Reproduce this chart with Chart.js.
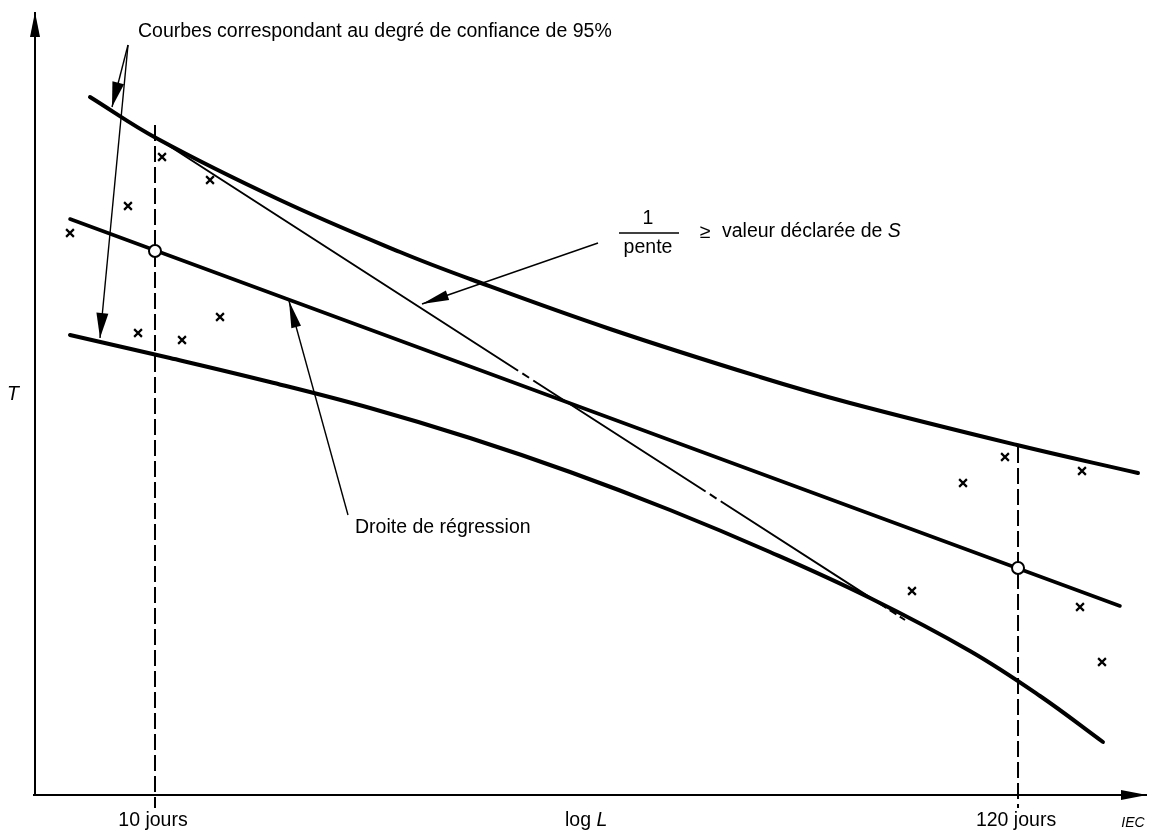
<!DOCTYPE html>
<html>
<head>
<meta charset="utf-8">
<script src="https://cdn.jsdelivr.net/npm/chart.js@4.4.1/dist/chart.umd.min.js"></script>
<style>
  html, body { margin: 0; padding: 0; background: #fff; }
  canvas { display: block; }
</style>
</head>
<body>
<canvas id="chart" width="1151" height="831"></canvas>
<script>
// x = log10(L in days), y = T (arbitrary units, 0 on the x axis)
const TICK_DAYS = [10, 120];
const TICK_LABELS = ['10 jours', '120 jours'];

const UPPER_X = [0.9187, 1.0025, 1.1563, 1.3064, 1.3939, 1.5690, 1.7565, 1.8691, 2.0779, 2.2292];
const UPPER_T = [69.8, 65.65, 59.5, 54.3, 51.6, 46.6, 41.8, 39.2, 35.0, 32.2];

const LOWER_X = [0.8937, 1.0188, 1.1438, 1.2689, 1.3939, 1.5190, 1.6440, 1.7690, 1.8941, 2.0191, 2.1067, 2.1854];
const LOWER_T = [46.0, 43.7, 41.3, 38.7, 35.7, 32.3, 28.5, 24.3, 19.7, 14.4, 9.9, 5.3];

const REGRESSION_X = [0.8937, 2.2067];
const REGRESSION_T = [57.6, 18.9];

// regression values read at 10 and 120 days
const REGRESSION_AT_TICKS = [54.4, 22.7];
// top of the dashed reference lines
const TICK_LINE_TOP = [67.0, 34.8];

const SLOPE_X = [1.0063, 1.9379];
const SLOPE_T = [65.5, 17.5];

const MEASURED_X = [0.8937, 0.9662, 1.0088, 1.0688, 0.9788, 1.0338, 1.0813, 1.9466, 2.0104, 2.0629, 2.1592, 2.1567, 2.1842];
const MEASURED_T = [56.2, 58.9, 63.8, 61.5, 46.2, 45.5, 47.8, 20.4, 31.2, 33.8, 32.4, 18.8, 13.3];

const toPoints = (xs, ys) => xs.map((x, i) => ({ x: x, y: ys[i] }));
const tickX = TICK_DAYS.map(d => Math.log10(d));

const FONT = '"Liberation Sans", Arial, Helvetica, sans-serif';
const SIZE = 19.5;

function arrow(ctx, x1, y1, x2, y2, len, half) {
  ctx.beginPath();
  ctx.moveTo(x1, y1);
  ctx.lineTo(x2, y2);
  ctx.stroke();
  const a = Math.atan2(y2 - y1, x2 - x1);
  const bx = x2 - len * Math.cos(a), by = y2 - len * Math.sin(a);
  ctx.beginPath();
  ctx.moveTo(x2, y2);
  ctx.lineTo(bx + half * Math.sin(a), by - half * Math.cos(a));
  ctx.lineTo(bx - half * Math.sin(a), by + half * Math.cos(a));
  ctx.closePath();
  ctx.fill();
}

const figurePlugin = {
  id: 'figure',
  afterDatasetsDraw(chart) {
    const ctx = chart.ctx;
    const xs = chart.scales.x, ys = chart.scales.y;
    const y0 = ys.getPixelForValue(0);
    const xAxis = 35;
    ctx.save();
    ctx.strokeStyle = '#000';
    ctx.fillStyle = '#000';

    // axes
    ctx.lineWidth = 2;
    arrow(ctx, xAxis, y0 + 1, xAxis, 12, 25, 5);
    arrow(ctx, 33, y0, 1147, y0, 26, 5);

    // leader arrows
    ctx.lineWidth = 1.4;
    arrow(ctx, 128, 45, 112, 107, 25, 6);
    arrow(ctx, 128, 45, 100, 338, 25, 6);
    arrow(ctx, 598, 243, 422, 304, 27, 5);
    arrow(ctx, 348, 515, 289, 301, 27, 5);

    // texts
    ctx.textBaseline = 'middle';
    ctx.font = SIZE + 'px ' + FONT;
    ctx.textAlign = 'left';
    ctx.fillText('Courbes correspondant au degré de confiance de 95%', 138, 32);
    ctx.fillText('Droite de régression', 355, 528);

    ctx.textAlign = 'center';
    ctx.fillText('1', 648, 219);
    ctx.fillText('pente', 648, 248);
    ctx.lineWidth = 1.5;
    ctx.beginPath();
    ctx.moveTo(619, 233);
    ctx.lineTo(679, 233);
    ctx.stroke();
    ctx.fillText('≥', 705, 233);
    ctx.textAlign = 'left';
    const label = 'valeur déclarée de ';
    ctx.fillText(label, 722, 232);
    const w = ctx.measureText(label).width;
    ctx.font = 'italic ' + SIZE + 'px ' + FONT;
    ctx.fillText('S', 722 + w, 232);

    // axis titles and tick labels
    ctx.textAlign = 'center';
    ctx.fillText('T', 13, 395);

    ctx.font = SIZE + 'px ' + FONT;
    TICK_LABELS.forEach((t, i) => {
      ctx.fillText(t, xs.getPixelForValue(tickX[i]) - 2, 821);
    });
    ctx.textAlign = 'left';
    ctx.fillText('log ', 565, 821);
    const lw = ctx.measureText('log ').width;
    ctx.font = 'italic ' + SIZE + 'px ' + FONT;
    ctx.fillText('L', 565 + lw, 821);

    ctx.font = 'italic 14px ' + FONT;
    ctx.textAlign = 'center';
    ctx.fillText('IEC', 1133, 823);
    ctx.restore();
  }
};

const bandStyle = {
  showLine: true,
  borderColor: '#000',
  borderWidth: 4,
  pointRadius: 0,
  tension: 0.4,
  borderCapStyle: 'round',
  fill: false,
  clip: false
};

new Chart(document.getElementById('chart'), {
  type: 'scatter',
  data: {
    datasets: [
      {
        label: 'Régression à 10 et 120 jours',
        data: toPoints(tickX, REGRESSION_AT_TICKS),
        pointStyle: 'circle',
        pointRadius: 6,
        pointBorderWidth: 2,
        pointBackgroundColor: '#fff',
        pointBorderColor: '#000',
        showLine: false,
        order: 0,
        clip: false
      },
      {
        label: 'Mesures',
        data: toPoints(MEASURED_X, MEASURED_T),
        pointStyle: 'crossRot',
        pointRadius: 5.5,
        pointBorderWidth: 2.2,
        pointBorderColor: '#000',
        showLine: false,
        order: 1,
        clip: false
      },
      Object.assign({}, bandStyle, {
        label: 'Courbe supérieure 95%',
        data: toPoints(UPPER_X, UPPER_T),
        order: 2
      }),
      Object.assign({}, bandStyle, {
        label: 'Courbe inférieure 95%',
        data: toPoints(LOWER_X, LOWER_T),
        order: 2
      }),
      Object.assign({}, bandStyle, {
        label: 'Droite de régression',
        data: toPoints(REGRESSION_X, REGRESSION_T),
        borderWidth: 3.5,
        tension: 0,
        order: 2
      }),
      {
        label: '1/pente',
        data: toPoints(SLOPE_X, SLOPE_T),
        showLine: true,
        borderColor: '#000',
        borderWidth: 2,
        pointRadius: 0,
        borderDash: [426, 5, 8, 5, 205, 5, 8, 5, 197, 4, 8, 4, 8, 400],
        order: 3,
        clip: false
      },
      ...tickX.map((x, i) => ({
        label: TICK_LABELS[i],
        data: [{ x: x, y: TICK_LINE_TOP[i] }, { x: x, y: -1.3 }],
        showLine: true,
        borderColor: '#000',
        borderWidth: 2,
        pointRadius: 0,
        borderDash: [16, 5],
        order: 4,
        clip: false
      }))
    ]
  },
  options: {
    responsive: false,
    animation: false,
    layout: { padding: 0, autoPadding: false },
    plugins: {
      legend: { display: false },
      tooltip: { enabled: false }
    },
    scales: {
      x: { type: 'linear', min: 0.80618, max: 2.24547, display: false },
      y: { type: 'linear', min: -3.6, max: 79.5, display: false }
    }
  },
  plugins: [figurePlugin]
});
</script>
</body>
</html>
